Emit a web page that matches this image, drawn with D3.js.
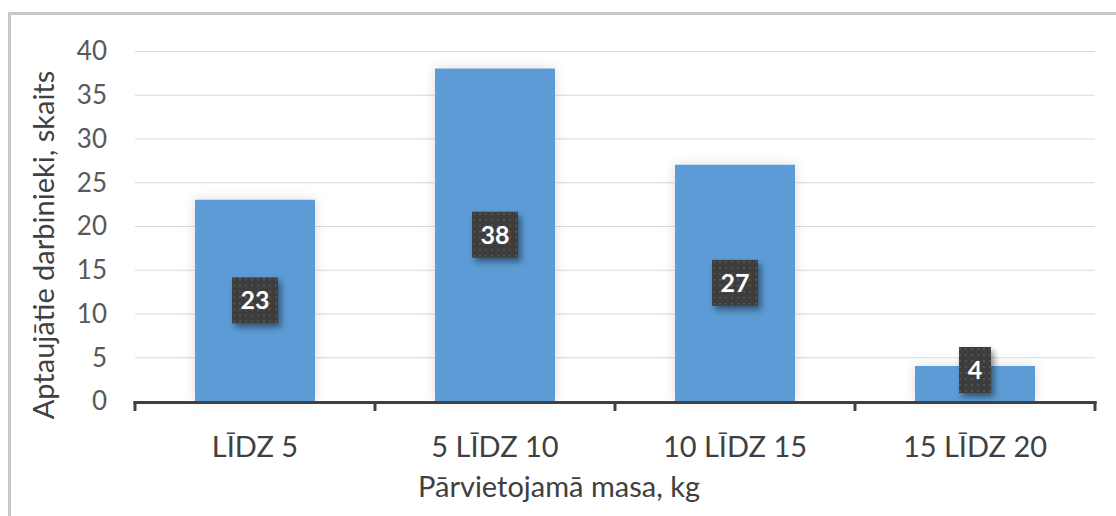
<!DOCTYPE html>
<html>
<head>
<meta charset="utf-8">
<script src="https://cdn.jsdelivr.net/npm/d3@7"></script>
<style>
  body { margin: 0; background: #fff; }
  svg { display: block; font-family: Lato, "Open Sans", sans-serif; }
</style>
</head>
<body>
<svg width="1116" height="516"></svg>
<script>
const categories = ["LĪDZ 5", "5 LĪDZ 10", "10 LĪDZ 15", "15 LĪDZ 20"];
const values = [23, 38, 27, 4];
const yTicks = [0, 5, 10, 15, 20, 25, 30, 35, 40];

const svg = d3.select("svg");
const defs = svg.append("defs");

// soft glow round the bars
const barShadow = defs.append("filter").attr("id", "barShadow")
  .attr("x", "-20%").attr("y", "-20%").attr("width", "140%").attr("height", "140%");
barShadow.append("feDropShadow").attr("dx", 0).attr("dy", 0)
  .attr("stdDeviation", 6).attr("flood-color", "#000").attr("flood-opacity", 0.14);

const lblShadow = defs.append("filter").attr("id", "lblShadow")
  .attr("x", "-30%").attr("y", "-30%").attr("width", "170%").attr("height", "170%");
lblShadow.append("feDropShadow").attr("dx", 3).attr("dy", 4)
  .attr("stdDeviation", 3).attr("flood-color", "#000").attr("flood-opacity", 0.45);

// dotted texture for the label boxes
const pat = defs.append("pattern").attr("id", "dots")
  .attr("width", 6).attr("height", 6).attr("patternUnits", "userSpaceOnUse");
pat.append("rect").attr("width", 6).attr("height", 6).attr("fill", "#3e3e3e");
pat.append("rect").attr("x", 2).attr("y", 2).attr("width", 2).attr("height", 2).attr("fill", "#535353");

// chart border
svg.append("rect")
  .attr("x", 9.5).attr("y", 13.5).attr("width", 1130).attr("height", 520)
  .attr("fill", "none").attr("stroke", "#c8c8c8").attr("stroke-width", 3);

const plotL = 135, plotR = 1095, plotT = 51, plotB = 401;

const x = d3.scaleBand().domain(categories).range([plotL, plotR]).paddingInner(0.5).paddingOuter(0.25);
const xEdge = d3.scaleBand().domain(categories).range([plotL, plotR]);
const y = d3.scaleLinear().domain([0, 40]).range([plotB, plotT]);

// gridlines
svg.append("g")
  .selectAll("line")
  .data(yTicks.filter(d => d > 0))
  .join("line")
  .attr("x1", plotL).attr("x2", plotR)
  .attr("y1", d => y(d) + 0.5).attr("y2", d => y(d) + 0.5)
  .attr("stroke", "#d9d9d9").attr("stroke-width", 1);

// y tick labels
svg.append("g")
  .selectAll("text")
  .data(yTicks)
  .join("text")
  .attr("x", 107).attr("y", d => y(d))
  .attr("dy", "0.36em")
  .attr("text-anchor", "end")
  .attr("fill", "#595959")
  .style("font-size", "26px")
  .text(d => d);

// bars
svg.append("g")
  .selectAll("rect")
  .data(values)
  .join("rect")
  .attr("x", (d, i) => x(categories[i]))
  .attr("y", d => y(d))
  .attr("width", x.bandwidth())
  .attr("height", d => y(0) - y(d))
  .attr("fill", "#5b9bd5")
  .attr("filter", "url(#barShadow)");

// x axis line and ticks
const axis = svg.append("g").attr("stroke", "#404040").attr("stroke-width", 3);
axis.append("line").attr("x1", plotL - 1.5).attr("x2", plotR + 1.5)
  .attr("y1", plotB + 1.5).attr("y2", plotB + 1.5);
axis.selectAll("line.tick")
  .data(categories.map(c => xEdge(c)).concat([plotR]))
  .join("line").attr("class", "tick")
  .attr("x1", d => d).attr("x2", d => d)
  .attr("y1", plotB).attr("y2", plotB + 10);

// x labels
svg.append("g")
  .selectAll("text")
  .data(categories)
  .join("text")
  .attr("x", d => x(d) + x.bandwidth() / 2)
  .attr("y", 457)
  .attr("text-anchor", "middle")
  .attr("fill", "#404040")
  .style("font-size", "29px")
  .text(d => d);

// data labels
const lbl = svg.append("g")
  .selectAll("g")
  .data(values)
  .join("g")
  .attr("transform", (d, i) => {
    const cx = x(categories[i]) + x.bandwidth() / 2;
    const cy = Math.min((y(d) + y(0)) / 2, plotB - 31);
    return `translate(${cx},${cy})`;
  });
lbl.append("rect")
  .attr("x", d => String(d).length > 1 ? -23 : -16)
  .attr("y", -23)
  .attr("width", d => String(d).length > 1 ? 46 : 32)
  .attr("height", 46)
  .attr("fill", "url(#dots)")
  .attr("filter", "url(#lblShadow)");
lbl.append("text")
  .attr("text-anchor", "middle")
  .attr("dy", "0.36em")
  .attr("fill", "#fff")
  .style("font-size", "25px")
  .style("font-weight", "bold")
  .text(d => d);

// axis titles
svg.append("text")
  .attr("transform", "translate(54,245) rotate(-90)")
  .attr("text-anchor", "middle")
  .attr("fill", "#404040")
  .style("font-size", "29px")
  .text("Aptaujātie darbinieki, skaits");

svg.append("text")
  .attr("x", 559).attr("y", 497)
  .attr("text-anchor", "middle")
  .attr("fill", "#404040")
  .style("font-size", "29px")
  .text("Pārvietojamā masa, kg");
</script>
</body>
</html>
